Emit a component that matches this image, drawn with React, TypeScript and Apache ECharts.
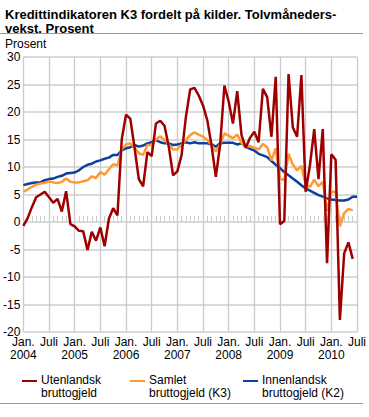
import React, { useEffect, useRef } from "react";
import * as echarts from "echarts";

// Monthly observations, Jan. 2004 – Jul. 2010
const years = [2004, 2005, 2006, 2007, 2008, 2009, 2010];
const monthsInLastYear = 7;

const xTickLabels = [
  "Jan.\n2004", "Juli", "Jan.\n2005", "Juli", "Jan.\n2006", "Juli", "Jan.\n2007",
  "Juli", "Jan.\n2008", "Juli", "Jan.\n2009", "Juli", "Jan.\n2010", "Juli",
];

const yMin = -20;
const yMax = 30;
const yStep = 5;

// Utenlandsk bruttogjeld
const utenlandsk = [
  -0.7, 0.7, 2.7, 4.5, 5.0, 5.5, 4.5, 3.5, 4.2, 1.9,
  5.6, -0.4, -0.8, -1.6, -1.7, -5.1, -1.8, -3.4, -1.0, -4.4,
  0.6, 2.5, 1.2, 15.0, 19.5, 18.8, 13.5, 7.8, 6.5, 12.7,
  12.0, 17.9, 18.4, 17.5, 13.7, 8.5, 9.2, 12.2, 19.1, 24.1,
  24.4, 23.0, 21.2, 18.5, 13.9, 8.2, 14.0, 24.8, 21.9, 17.9,
  23.8, 15.8, 13.5, 15.3, 16.4, 14.5, 24.2, 22.7, 15.5, 26.4,
  -0.4, 0.2, 26.9, 17.2, 15.5, 26.7, 5.5, 10.3, 16.9, 7.8,
  16.9, -7.5, 12.3, 11.3, -17.8, -5.7, -3.7, -6.7, null,
];

// Samlet bruttogjeld (K3)
const samlet = [
  5.5, 5.9, 6.4, 6.8, 7.0, 7.1, 7.4, 7.2, 7.1, 7.3,
  7.9, 7.3, 7.2, 7.2, 7.4, 7.6, 8.3, 8.0, 9.1, 8.6,
  9.6, 10.5, 10.3, 13.2, 14.1, 14.3, 13.6, 12.5, 12.2, 14.0,
  14.0, 15.0, 15.6, 14.9, 14.1, 13.2, 13.2, 14.0, 14.9, 15.8,
  16.3, 15.9, 15.5, 14.9, 14.0, 12.8, 14.1, 16.1, 15.7, 15.2,
  15.9, 14.4, 13.7, 13.8, 13.5, 13.2, 14.2, 13.6, 11.2, 13.4,
  7.9, 7.6, 12.4, 10.4, 9.4, 10.2, 6.8, 6.4, 7.7, 6.5,
  7.3, 2.0, 5.5, 5.5, -0.8, 1.6, 2.4, 2.1, null,
];

// Innenlandsk bruttogjeld (K2)
const innenlandsk = [
  6.7, 6.9, 7.1, 7.2, 7.2, 7.6, 7.8, 7.9, 8.2, 8.4,
  8.8, 8.9, 9.0, 9.4, 10.0, 10.4, 10.6, 11.0, 11.2, 11.5,
  11.7, 12.2, 12.2, 13.0, 13.4, 13.6, 14.0, 13.7, 13.9, 14.3,
  14.5, 14.9, 14.5, 14.3, 14.3, 14.0, 14.1, 14.3, 14.5, 14.3,
  14.5, 14.3, 14.3, 14.3, 14.1, 13.7, 14.3, 14.4, 14.4, 14.4,
  14.1, 14.3, 13.7, 13.3, 13.0, 12.4, 12.1, 11.8, 11.1, 10.4,
  9.8, 9.1, 8.5, 7.9, 7.3, 6.7, 6.1, 5.7, 5.3, 4.9,
  4.6, 4.3, 4.1, 4.0, 3.9, 3.9, 4.1, 4.6, 4.6,
];

const seriesNames = [
  "Utenlandsk\nbruttogjeld",
  "Samlet\nbruttogjeld (K3)",
  "Innenlandsk\nbruttogjeld (K2)",
];
const colors = ["#9e0000", "#ff9a33", "#0c3f9e"];

const categories: string[] = [];
years.forEach((y, yi) => {
  const n = yi === years.length - 1 ? monthsInLastYear : 12;
  for (let m = 1; m <= n; m++) categories.push(`${y}-${m}`);
});

const FONT = "'Liberation Sans', Arial, Helvetica, sans-serif";

export default function App() {
  const ref = useRef<HTMLDivElement>(null);

  useEffect(() => {
    if (!ref.current) return;
    const chart = echarts.init(ref.current, null, { renderer: "svg" });
    const halfYear = (i: number) => i % 6 === 0;

    const legendX = [22, 130, 243];
    const legendGraphics: any[] = [];
    seriesNames.forEach((name, k) => {
      legendGraphics.push({
        type: "line",
        shape: { x1: legendX[k], y1: 381, x2: legendX[k] + 15, y2: 381 },
        style: { stroke: colors[k], lineWidth: 2 },
      });
      legendGraphics.push({
        type: "text",
        x: legendX[k] + 19,
        y: 373.6,
        style: {
          text: name,
          fontSize: 12,
          lineHeight: 13,
          fontFamily: FONT,
          fill: "#000",
          verticalAlign: "top",
          align: "left",
        },
      });
    });

    chart.setOption({
      animation: false,
      textStyle: { fontFamily: FONT },
      grid: { left: 19, right: 6.5, top: 57, bottom: 85, containLabel: false },
      graphic: [
        {
          type: "text",
          x: 5,
          y: 7,
          style: {
            text: "Kredittindikatoren K3 fordelt på kilder. Tolvmåneders-\nvekst. Prosent",
            fontSize: 13,
            fontWeight: "bold",
            lineHeight: 14.5,
            fontFamily: FONT,
            fill: "#000",
            verticalAlign: "top",
          },
        },
        {
          type: "line",
          shape: { x1: 0, y1: 33.5, x2: 363, y2: 33.5 },
          style: { stroke: "#9a9a9a", lineWidth: 1 },
        },
        {
          type: "text",
          x: 5,
          y: 44,
          style: {
            text: "Prosent",
            fontSize: 12,
            fontFamily: FONT,
            fill: "#000",
            verticalAlign: "middle",
          },
        },
        {
          type: "line",
          shape: { x1: 0, y1: 403.5, x2: 363, y2: 403.5 },
          style: { stroke: "#9a9a9a", lineWidth: 1 },
        },
        ...legendGraphics,
      ],
      xAxis: [
        {
          type: "category",
          data: categories,
          boundaryGap: false,
          position: "bottom",
          axisLine: { show: false, onZero: false },
          axisTick: { show: false },
          axisLabel: {
            interval: (i: number) => halfYear(i),
            formatter: (_v: string, i: number) => (halfYear(i) ? xTickLabels[i / 6] : ""),
            fontSize: 12,
            lineHeight: 13,
            margin: 3,
            color: "#000",
            fontFamily: FONT,
          },
          splitLine: {
            show: true,
            interval: (i: number) => halfYear(i),
            lineStyle: { color: "#cbcbcb", width: 1.3 },
          },
        },
        {
          type: "category",
          data: categories,
          boundaryGap: false,
          position: "bottom",
          axisLine: { show: false, onZero: true },
          axisTick: {
            show: true,
            inside: true,
            length: 6,
            interval: 0,
            lineStyle: { color: "#cccccc", width: 1 },
          },
          axisLabel: { show: false },
          splitLine: { show: false },
        },
      ],
      yAxis: {
        type: "value",
        min: yMin,
        max: yMax,
        interval: yStep,
        axisLine: { show: false },
        axisTick: { show: false },
        axisLabel: { fontSize: 12, margin: 3, color: "#000", fontFamily: FONT },
        splitLine: { lineStyle: { color: "#dadada", width: 2 } },
      },
      series: [
        {
          name: seriesNames[2],
          type: "line",
          data: innenlandsk,
          symbol: "none",
          lineStyle: { color: colors[2], width: 2.5 },
          z: 3,
        },
        {
          name: seriesNames[1],
          type: "line",
          data: samlet,
          symbol: "none",
          lineStyle: { color: colors[1], width: 2.5 },
          z: 4,
        },
        {
          name: seriesNames[0],
          type: "line",
          data: utenlandsk,
          symbol: "none",
          lineStyle: { color: colors[0], width: 2.5 },
          z: 5,
        },
      ],
    });

    return () => chart.dispose();
  }, []);

  return (
    <div
      ref={ref}
      style={{ position: "absolute", left: 0, top: 0, width: 369, height: 417 }}
    />
  );
}
